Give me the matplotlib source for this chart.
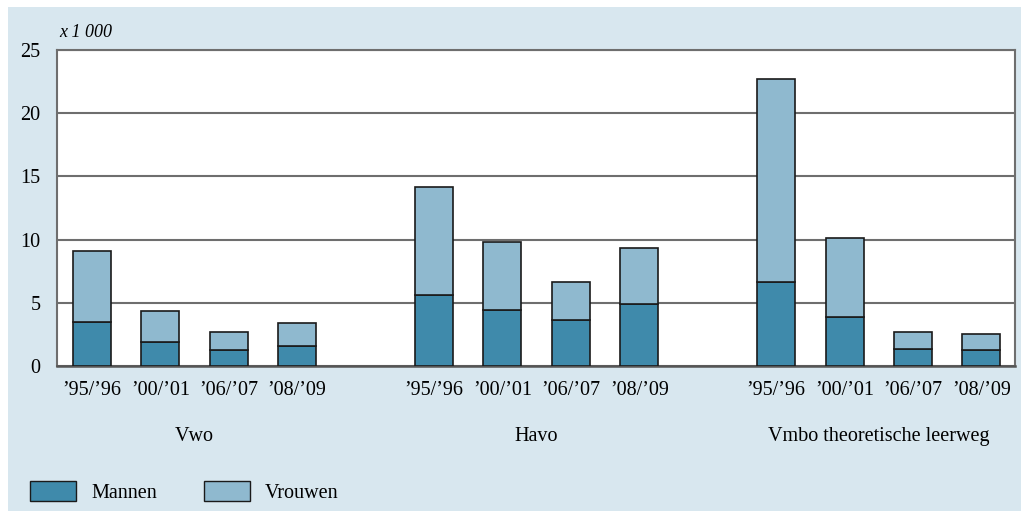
import matplotlib.pyplot as plt
from matplotlib.patches import Rectangle, Patch
import numpy as np

plt.rcParams['font.family'] = ['Liberation Serif', 'DejaVu Serif']

groups = ['Vwo', 'Havo', 'Vmbo theoretische leerweg']
years = ["\u201995/\u201996", "\u201900/\u201901", "\u201906/\u201907", "\u201908/\u201909"]
totaal = [[9.1, 4.35, 2.7, 3.43],
          [14.16, 9.8, 6.65, 9.33],
          [22.7, 10.15, 2.72, 2.5]]
mannen = [[3.52, 1.9, 1.24, 1.56],
          [5.6, 4.43, 3.64, 4.9],
          [6.62, 3.85, 1.37, 1.27]]

c_man = '#3f8aab'
c_vrouw = '#8fb9cf'
bg = '#d8e7ef'

fig = plt.figure(figsize=(10.21, 5.11), dpi=100)
fig.patch.set_facecolor('white')
fig.patches.append(Rectangle((8 / 1021, 0), 1, 1 - 7 / 511, transform=fig.transFigure,
                             facecolor=bg, edgecolor='none', zorder=-10))

ax = fig.add_axes([57 / 1021, 1 - 366 / 511, (1015 - 57) / 1021, (366 - 50) / 511])
ax.set_facecolor('white')

pos, labels = [], []
for g in range(3):
    x = np.arange(4) + g * 5
    m = np.array(mannen[g])
    v = np.array(totaal[g]) - m
    ax.bar(x, m, width=0.555, color=c_man, edgecolor='#1a1a1a', linewidth=1.2, zorder=3)
    ax.bar(x, v, bottom=m, width=0.555, color=c_vrouw, edgecolor='#1a1a1a', linewidth=1.2, zorder=3)
    pos += list(x)
    labels += years
    ax.text(g * 5 + 1.5, -5.6, groups[g], ha='center', va='center', fontsize=14.5)

ax.set_xlim(-0.51, 13.49)
ax.set_ylim(0, 25)
ax.set_yticks([0, 5, 10, 15, 20, 25])
ax.set_xticks(pos)
ax.set_xticklabels(labels, fontsize=14.5)
ax.tick_params(axis='y', labelsize=14.5, length=0, pad=12)
ax.tick_params(axis='x', length=0, pad=11)
ax.yaxis.grid(True, color='#6e6e6e', linewidth=1.5, zorder=0)
ax.set_axisbelow(True)
for s in ['left', 'right', 'top']:
    ax.spines[s].set_color('#6e6e6e')
    ax.spines[s].set_linewidth(1.5)
ax.spines['bottom'].set_color('#555555')
ax.spines['bottom'].set_linewidth(1.8)

ax.text(0.002, 1.03, 'x 1 000', transform=ax.transAxes, fontsize=13, style='italic', va='bottom')

handles = [Patch(facecolor=c_man, edgecolor='#1a1a1a', label='Mannen'),
           Patch(facecolor=c_vrouw, edgecolor='#1a1a1a', label='Vrouwen')]
fig.legend(handles=handles, loc='lower left', bbox_to_anchor=(12 / 1021, -10 / 511), ncol=2,
           frameon=False, fontsize=14.5, handlelength=2.3, handleheight=1.2,
           handletextpad=0.75, columnspacing=2.3)

fig.savefig('out.png', dpi=100)
